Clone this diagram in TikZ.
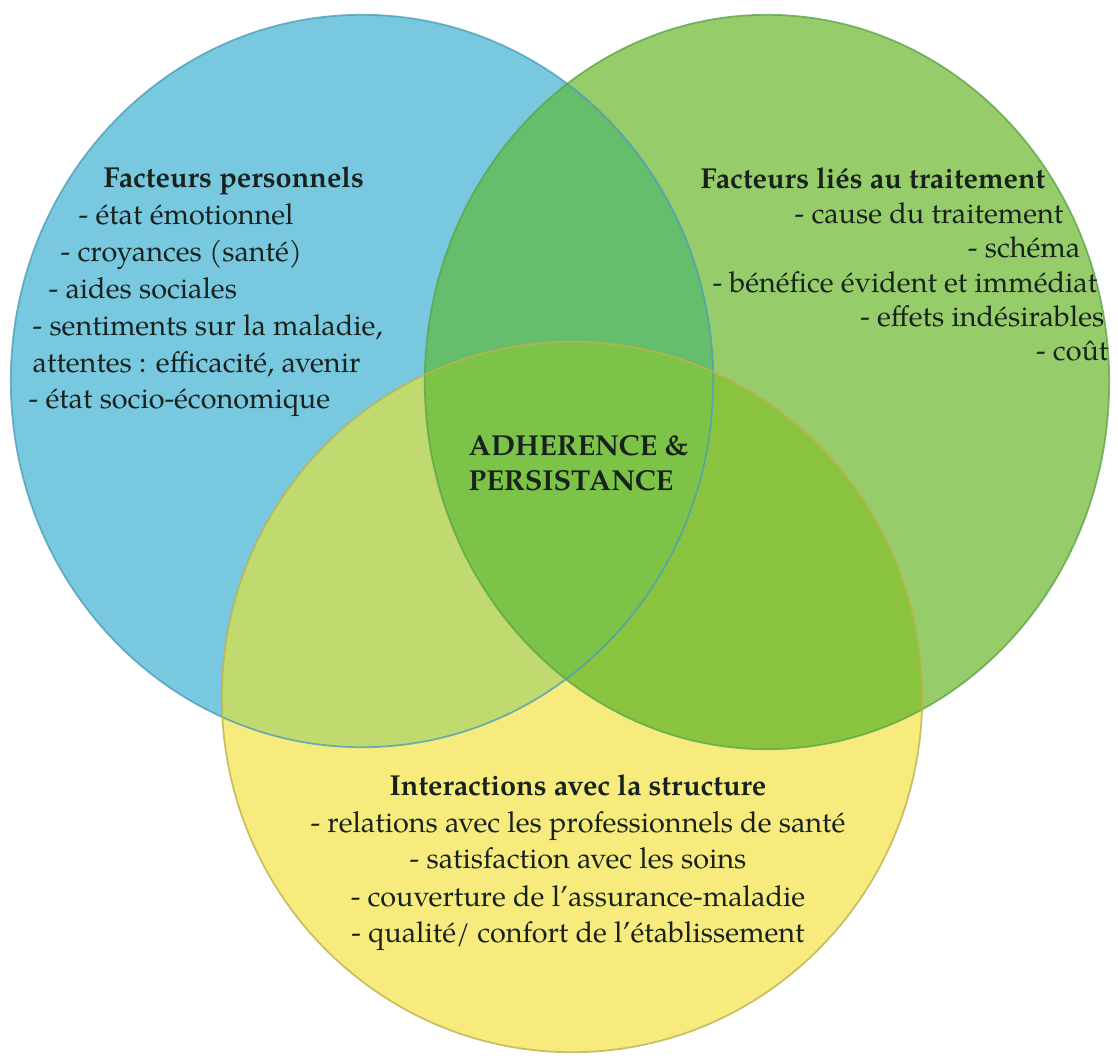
\documentclass[tikz,border=0pt]{standalone}
\usepackage{fontspec}
\setmainfont{TeX Gyre Pagella}
\usetikzlibrary{positioning}

\definecolor{bluefill}{HTML}{78C8E0}
\definecolor{greenfill}{HTML}{97CC6A}
\definecolor{yellowfill}{HTML}{F7EB7D}
\definecolor{bgfill}{HTML}{65BE6C}
\definecolor{byfill}{HTML}{C1DA70}
\definecolor{gyfill}{HTML}{8AC43F}
\definecolor{midfill}{HTML}{7DC347}
\definecolor{blueline}{HTML}{4E9FB8}
\definecolor{greenline}{HTML}{5DA64A}
\definecolor{yellowline}{HTML}{BDB150}
\definecolor{ink}{HTML}{18221C}

\tikzset{
  item/.style={inner sep=0pt, text=ink, font=\fontsize{8.2}{10}\selectfont},
  head/.style={item, font=\fontsize{8.2}{10}\selectfont\bfseries},
  ring/.style={line width=0.5pt}
}

% the three sets
\def\bluedisc{(B) ellipse [x radius=3.51cm, y radius=3.66cm]}
\def\greendisc{(G) ellipse [x radius=3.42cm, y radius=3.67cm]}
\def\yellowdisc{(Y) ellipse [x radius=3.50cm, y radius=3.55cm]}

\begin{document}
\begin{tikzpicture}[x=0.01cm, y=-0.01cm]
  \useasboundingbox (0,0) rectangle (1118,1060);
  % centres
  \coordinate (B) at (362,381);
  \coordinate (G) at (767,382);
  \coordinate (Y) at (572,697);

  % plain discs
  \fill[bluefill] \bluedisc;
  \fill[greenfill] \greendisc;
  \fill[yellowfill] \yellowdisc;
  % overlaps
  \begin{scope}
    \clip \bluedisc;
    \fill[bgfill] \greendisc;
    \fill[byfill] \yellowdisc;
  \end{scope}
  \begin{scope}
    \clip \greendisc;
    \fill[gyfill] \yellowdisc;
    \clip \bluedisc;
    \fill[midfill] \yellowdisc;
  \end{scope}
  % outlines
  \draw[ring, blueline, draw opacity=0.8] \bluedisc;
  \draw[ring, greenline, draw opacity=0.8] \greendisc;
  \draw[ring, yellowline, draw opacity=0.8] \yellowdisc;

  % personal factors
  \node[head, anchor=base west] (perso) at (103,187) {Facteurs personnels};
  \foreach \x/\y/\t [count=\i] in {78/224/{- état émotionnel},
      60/261/{- croyances (santé)}, 48/298/{- aides sociales},
      32/335/{- sentiments sur la maladie,},
      32/372/{attentes : efficacité, avenir},
      28/408/{- état socio-économique}}
    \node[item, anchor=base west] (perso\i) at (\x,\y) {\t};

  % treatment factors
  \node[head, anchor=base east] (trait) at (1046,188) {Facteurs liés au traitement};
  \foreach \x/\y/\t [count=\i] in {1064/223/{- cause du traitement},
      1081/257/{- schéma}, 1098/292/{- bénéfice évident et immédiat},
      1105/326/{- effets indésirables}, 1109/360/{- coût}}
    \node[item, anchor=base east] (trait\i) at (\x,\y) {\t};

  % structure
  \node[head, anchor=base] (struct) at (578,795) {Interactions avec la structure};
  \foreach \y/\t [count=\i] in {832/{- relations avec les professionnels de santé},
      868/{- satisfaction avec les soins},
      906/{- couverture de l'assurance-maladie},
      942/{- qualité/ confort de l'établissement}}
    \node[item, anchor=base] (struct\i) at (578,\y) {\t};

  % centre
  \node[head, anchor=base west] (adh) at (468,455) {ADHERENCE \&};
  \node[head, anchor=base west] (pers) at (468,490) {PERSISTANCE};
\end{tikzpicture}
\end{document}
